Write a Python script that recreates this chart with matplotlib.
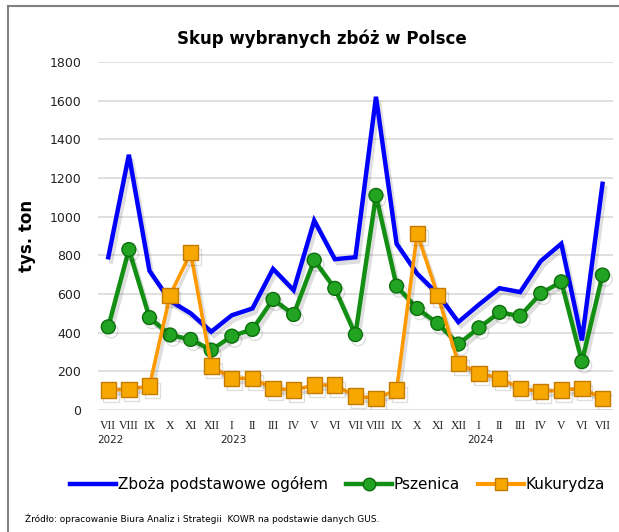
import matplotlib
matplotlib.use("Agg")
import matplotlib.pyplot as plt
import matplotlib.patheffects as pe
from matplotlib.lines import Line2D

# dane (tys. ton)
months = ["VII", "VIII", "IX", "X", "XI", "XII", "I", "II", "III", "IV", "V", "VI",
          "VII", "VIII", "IX", "X", "XI", "XII", "I", "II", "III", "IV", "V", "VI", "VII"]
years = {0: "2022", 6: "2023", 18: "2024"}

zboza = [790, 1320, 720, 565, 500, 405, 490, 525, 730, 620, 980, 780,
         790, 1620, 860, 705, 600, 455, 545, 630, 610, 770, 860, 360, 1170]
pszenica = [430, 830, 478, 388, 365, 310, 382, 417, 572, 494, 775, 629,
            390, 1110, 641, 525, 448, 341, 425, 505, 486, 603, 663, 250, 698]
kukurydza = [103, 107, 124, 594, 813, 227, 164, 164, 112, 103, 129, 129,
             72, 60, 103, 913, 594, 241, 190, 164, 112, 95, 103, 112, 60]

blue = "#0000ff"
green = "#138f13"
orange = "#ff9900"

fig = plt.figure(figsize=(6.19, 5.32), dpi=100)
ax = fig.add_axes([0.1583, 0.2293, 0.8317, 0.6542])

# delikatny cień pod liniami
shadow = [pe.SimpleLineShadow(offset=(2, -3), shadow_color="black", alpha=0.13), pe.Normal()]
x = list(range(len(months)))

ax.plot(x, zboza, color=blue, lw=3.2, solid_joinstyle="miter", path_effects=shadow, zorder=3)
ax.plot(x, pszenica, color=green, lw=3.2, marker="o", markersize=10,
        markerfacecolor="#22a322", markeredgecolor="#0c6e0c", markeredgewidth=1,
        path_effects=shadow, zorder=4)
ax.plot(x, kukurydza, color=orange, lw=2.6, marker="s", markersize=11,
        markerfacecolor="#f7a800", markeredgecolor="#c47a00", markeredgewidth=1,
        path_effects=shadow, zorder=5)

ax.set_xlim(-0.5, len(months) - 0.5)
ax.set_ylim(0, 1800)
ax.set_yticks(range(0, 1801, 200))
ax.yaxis.grid(True, color="#d9d9d9", lw=1.2)
ax.set_axisbelow(True)
for s in ax.spines.values():
    s.set_visible(False)
ax.tick_params(length=0)
ax.tick_params(axis="y", labelsize=9, colors="#222222", pad=12)
ax.set_xticks(x)
ax.set_xticklabels(months, family="Liberation Serif", fontsize=8.5, color="#222222")
ax.tick_params(axis="x", pad=7)

for i, yr in years.items():
    ax.text(i - 0.55, -0.072, yr, transform=ax.get_xaxis_transform(),
            fontsize=7.5, color="#222222", ha="left", va="top")

ax.set_ylabel("tys. ton", fontsize=12, fontweight="bold", labelpad=10)
fig.text(0.52, 0.928, "Skup wybranych zbóż w Polsce", fontsize=12, fontweight="bold",
         ha="center", va="center")

handles = [
    Line2D([], [], color=blue, lw=3.2),
    Line2D([], [], color=green, lw=3.2, marker="o", markersize=9,
           markerfacecolor="#22a322", markeredgecolor="#0c6e0c"),
    Line2D([], [], color=orange, lw=3, marker="s", markersize=9,
           markerfacecolor="#f7a800", markeredgecolor="#c47a00"),
]
fig.legend(handles, ["Zboża podstawowe ogółem", "Pszenica", "Kukurydza"],
           loc="center", bbox_to_anchor=(0.545, 0.09), ncol=3, frameon=False,
           fontsize=11, handlelength=3.0, handletextpad=0.1, columnspacing=1.2)

fig.text(0.04, 0.024, "Źródło: opracowanie Biura Analiz i Strategii  KOWR na podstawie danych GUS.",
         fontsize=6.5, ha="left", va="center")

# ramka
fig.add_artist(Line2D([0.013, 0.013], [0, 0.989], color="#808080", lw=1.5, transform=fig.transFigure))
fig.add_artist(Line2D([0.013, 1.0], [0.989, 0.989], color="#808080", lw=1.5, transform=fig.transFigure))

fig.savefig("out.png", dpi=100)
